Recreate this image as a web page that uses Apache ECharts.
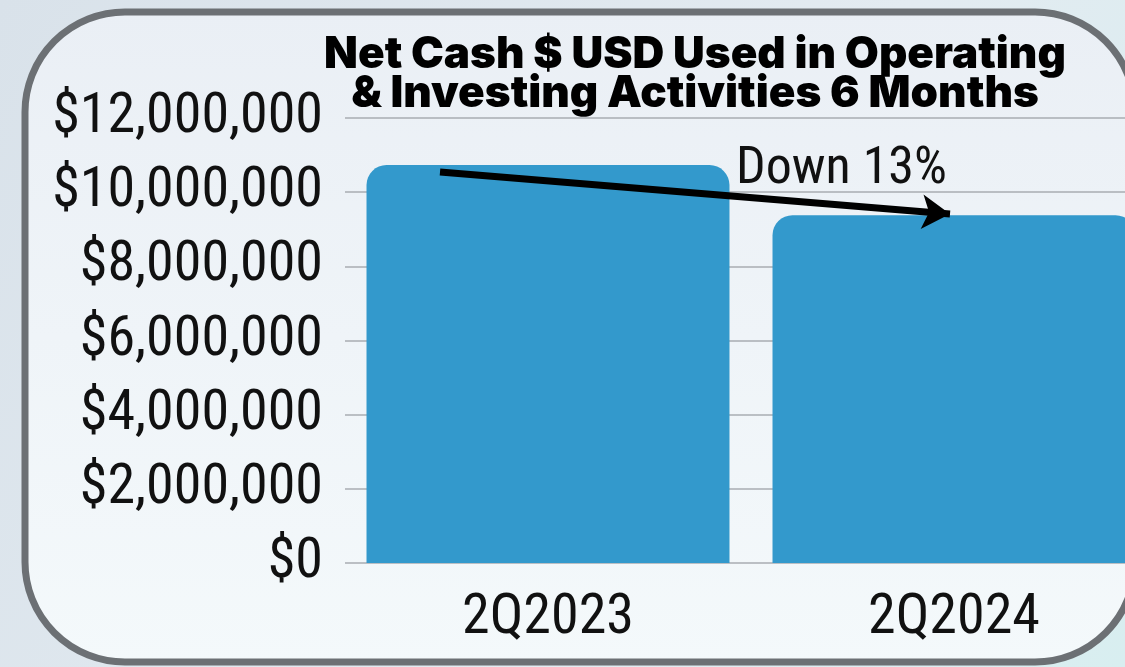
<!DOCTYPE html>
<html>
<head>
<meta charset="utf-8">
<script src="https://cdn.jsdelivr.net/npm/echarts@6/dist/echarts.min.js"></script>
<style>
html,body{margin:0;padding:0;background:#dfe7ee;}
#chart{width:1125px;height:667px;}
</style>
</head>
<body>
<div id="chart"></div>
<script>
const categories = ['2Q2023', '2Q2024'];
const netCashUsed = [10730000, 9380000];
const yTicks = [0, 2000000, 4000000, 6000000, 8000000, 10000000, 12000000];
const titleLines = ['Net Cash $ USD Used in Operating', '& Investing Activities 6 Months'];
const annotationText = 'Down 13%';

const chart = echarts.init(document.getElementById('chart'));
const narrow = '"Roboto Condensed", "DejaVu Sans Condensed", sans-serif';

chart.setOption({
  backgroundColor: {
    type: 'linear', x: 0, y: 0, x2: 1, y2: 1,
    colorStops: [{offset: 0, color: '#d9e2ea'}, {offset: 0.6, color: '#e3ebf1'}, {offset: 1, color: '#d8eef0'}]
  },
  graphic: [
    {
      type: 'rect', z: -10, silent: true,
      shape: {x: 25, y: 12, width: 1110, height: 650, r: 100},
      style: {
        fill: {type: 'linear', x: 0, y: 0, x2: 0, y2: 1,
          colorStops: [{offset: 0, color: '#eaeff5'}, {offset: 1, color: '#f4f9fb'}]},
        stroke: '#6c7074', lineWidth: 7
      }
    },
    {
      type: 'text', left: 736, top: 144, z: 10,
      style: {text: annotationText, font: '52px ' + narrow, fill: '#111'}
    }
  ],
  title: {
    text: titleLines.join('\n'),
    left: 690, top: 30, textAlign: 'center',
    textStyle: {fontFamily: 'Inter, sans-serif', fontWeight: 900, fontSize: 44, lineHeight: 39, color: '#000'}
  },
  grid: {left: 345, width: 812, top: 118, height: 445, containLabel: false, outerBoundsMode: 'none'},
  xAxis: {
    type: 'category', data: categories,
    axisLine: {show: false}, axisTick: {show: false},
    axisLabel: {fontFamily: 'Roboto Condensed', fontSize: 56, color: '#111', margin: 28}
  },
  yAxis: {
    type: 'value', min: yTicks[0], max: yTicks[yTicks.length - 1], interval: yTicks[1] - yTicks[0],
    axisLine: {show: false}, axisTick: {show: false},
    splitLine: {lineStyle: {color: '#a8adb2', width: 1.5}},
    axisLabel: {
      fontFamily: 'Roboto Condensed', fontSize: 56, color: '#111', margin: 22,
      formatter: v => '$' + v.toLocaleString('en-US')
    }
  },
  series: [{
    type: 'bar', data: netCashUsed, barCategoryGap: '10.6%',
    itemStyle: {color: '#3399cc', borderRadius: [20, 20, 0, 0]},
    markLine: {
      silent: true, symbol: ['none', 'arrow'], symbolSize: [26, 28],
      label: {show: false},
      lineStyle: {color: '#000', width: 7, type: 'solid'},
      data: [[{x: 440, y: 172}, {x: 950, y: 214}]]
    }
  }]
});
</script>
</body>
</html>
